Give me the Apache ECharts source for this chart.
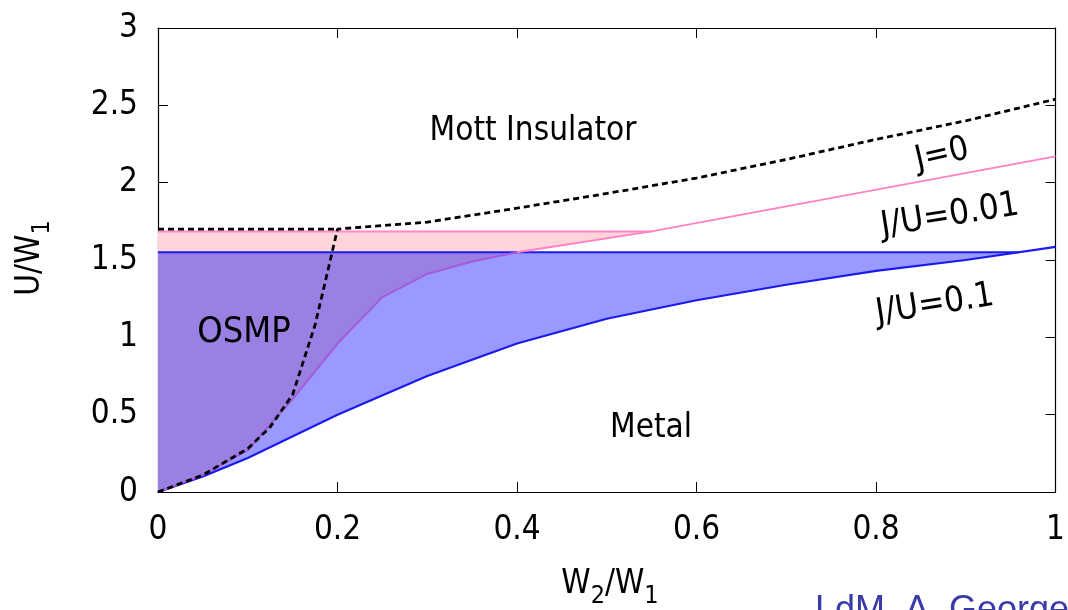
<!DOCTYPE html>
<html><head><meta charset="utf-8">
<script src="https://cdn.jsdelivr.net/npm/echarts@6/dist/echarts.min.js"></script>
<style>html,body{margin:0;padding:0;background:#fff}#c{width:1068px;height:610px}</style>
</head><body><div id="c"></div>
<script>
// ---- data ----
const xTicks = [0, 0.2, 0.4, 0.6, 0.8, 1];
const yTicks = [0, 0.5, 1, 1.5, 2, 2.5, 3];
// J=0 boundary (dashed)
const j0X = [0, 0.05, 0.1, 0.125, 0.15, 0.175, 0.19, 0.2, 0.3, 0.4, 0.5, 0.6, 0.7, 0.8, 0.9, 1];
const j0Y = [0, 0.11, 0.28, 0.42, 0.63, 1.08, 1.45, 1.70, 1.745, 1.835, 1.93, 2.03, 2.15, 2.28, 2.40, 2.54];
const j0Plateau = 1.70;
const j0PlateauEnd = 0.2;
// J/U = 0.01
const p01X = [0, 0.05, 0.1, 0.15, 0.2, 0.25, 0.3, 0.35, 0.4, 0.55, 1];
const p01Y = [0, 0.11, 0.27, 0.60, 0.96, 1.26, 1.41, 1.49, 1.55, 1.685, 2.17];
const p01Plateau = 1.685;
const p01PlateauEnd = 0.55;
// J/U = 0.1
const p1X = [0, 0.05, 0.1, 0.2, 0.3, 0.4, 0.5, 0.6, 0.7, 0.8, 0.9, 1];
const p1Y = [0, 0.10, 0.22, 0.50, 0.75, 0.96, 1.12, 1.24, 1.34, 1.43, 1.50, 1.585];
const p1Plateau = 1.55;

// ---- helpers ----
const FONT = "'DejaVu Sans Condensed', 'DejaVu Sans', sans-serif";
function pairs(xs, ys) { return xs.map((x, i) => [x, ys[i]]); }
function clipBelow(xs, ys, level) {
  const out = [];
  for (let i = 0; i < xs.length; i++) {
    if (ys[i] <= level) { out.push([xs[i], ys[i]]); if (ys[i] === level) return out; }
    else {
      const t = (level - ys[i - 1]) / (ys[i] - ys[i - 1]);
      out.push([xs[i - 1] + t * (xs[i] - xs[i - 1]), level]);
      return out;
    }
  }
  return out;
}
function clipX(xs, ys, xmax) { return pairs(xs, ys).filter(p => p[0] <= xmax); }

const pinkPoly = clipX(p01X, p01Y, p01PlateauEnd).concat([[0, p01Plateau]]);
const blueCurveClip = clipBelow(p1X, p1Y, p1Plateau);
const bluePoly = blueCurveClip.concat([[0, p1Plateau]]);
const overlapCurve = clipBelow(p01X, p01Y, p1Plateau);
const overlapPoly = overlapCurve.concat([[0, p1Plateau]]);
const blueCrossX = blueCurveClip[blueCurveClip.length - 1][0];
const overlapEndX = overlapCurve[overlapCurve.length - 1][0];

function polySeries(poly, color) {
  return {
    type: 'custom', silent: true, data: [[0, 0]], encode: { x: 0, y: 1 }, z: 1,
    renderItem: function (params, api) {
      return { type: 'polygon', shape: { points: poly.map(p => api.coord(p)) }, style: { fill: color, stroke: null } };
    }
  };
}
function lineSeries(data, color, width, type, z) {
  return { type: 'line', data: data, symbol: 'none', silent: true, z: z || 3,
    lineStyle: { color: color, width: width, type: type || 'solid', dashOffset: 0 } };
}

const axisCommon = {
  type: 'value', splitLine: { show: false },
  axisLine: { show: true, onZero: false, lineStyle: { color: '#000', width: 1.2 } },
  axisTick: { show: true, inside: true, length: 10, lineStyle: { color: '#000', width: 1 } },
};
const labelStyle = { fontFamily: FONT, fontSize: 33, color: '#000' };

const chart = echarts.init(document.getElementById('c'), null, { renderer: 'canvas' });
chart.setOption({
  animation: false,
  backgroundColor: '#fff',
  grid: { left: 158, right: 10, top: 28, bottom: 118 },
  xAxis: [
    Object.assign({}, axisCommon, { min: xTicks[0], max: xTicks[xTicks.length - 1], interval: xTicks[1] - xTicks[0], position: 'bottom',
      axisLabel: Object.assign({ margin: 22 }, labelStyle) }),
    Object.assign({}, axisCommon, { min: xTicks[0], max: xTicks[xTicks.length - 1], interval: xTicks[1] - xTicks[0], position: 'top',
      axisLabel: { show: false } })
  ],
  yAxis: [
    Object.assign({}, axisCommon, { min: yTicks[0], max: yTicks[yTicks.length - 1], interval: yTicks[1] - yTicks[0], position: 'left',
      axisLabel: Object.assign({ margin: 20 }, labelStyle) }),
    Object.assign({}, axisCommon, { min: yTicks[0], max: yTicks[yTicks.length - 1], interval: yTicks[1] - yTicks[0], position: 'right',
      axisLabel: { show: false } })
  ],
  series: [
    polySeries(pinkPoly, '#ffd4da'),
    polySeries(bluePoly, '#9999ff'),
    polySeries(overlapPoly, '#9a80e2'),
    lineSeries([[0, p1Plateau], [blueCrossX, p1Plateau]], '#1a1af0', 2),
    lineSeries(pairs(p1X, p1Y), '#1a1af0', 2.2),
    lineSeries([[0, p01Plateau], [p01PlateauEnd, p01Plateau]], '#ff88c8', 2),
    lineSeries(overlapCurve, '#a55ad8', 2),
    lineSeries(clipX(p01X, p01Y, 2).filter(p => p[0] >= overlapEndX), '#ff82c4', 2),
    lineSeries([[0, j0Plateau], [j0PlateauEnd, j0Plateau]], '#000', 2.8, [6, 4], 5),
    lineSeries(pairs(j0X, j0Y), '#000', 2.8, [6, 4], 5)
  ],
  graphic: [
    { type: 'text', x: 533, y: 131, style: { text: 'Mott Insulator', font: "33px " + FONT, fill: '#000', align: 'center', verticalAlign: 'middle' }, z: 10 },
    { type: 'text', x: 244, y: 333, style: { text: 'OSMP', font: "36px " + FONT, fill: '#000', align: 'center', verticalAlign: 'middle' }, z: 10 },
    { type: 'text', x: 651, y: 428, style: { text: 'Metal', font: "33px " + FONT, fill: '#000', align: 'center', verticalAlign: 'middle' }, z: 10 },
    { type: 'text', x: 942, y: 155, rotation: 13 * Math.PI / 180, style: { text: 'J=0', font: "34px " + FONT, fill: '#000', align: 'center', verticalAlign: 'middle' }, z: 10 },
    { type: 'text', x: 950, y: 216, rotation: 9 * Math.PI / 180, style: { text: 'J/U=0.01', font: "35px " + FONT, fill: '#000', align: 'center', verticalAlign: 'middle' }, z: 10 },
    { type: 'text', x: 935, y: 305, rotation: 9 * Math.PI / 180, style: { text: 'J/U=0.1', font: "35px " + FONT, fill: '#000', align: 'center', verticalAlign: 'middle' }, z: 10 },
    { type: 'text', x: 610, y: 588, style: { text: '{m|W}{s|2}{m|/W}{s|1}', align: 'center', verticalAlign: 'middle',
        rich: { m: { fontFamily: FONT, fontSize: 33, fill: '#000', verticalAlign: 'top' }, s: { fontFamily: FONT, fontSize: 25, fill: '#000', verticalAlign: 'bottom', padding: [16, 0, 0, 0] } } }, z: 10 },
    { type: 'text', x: 34, y: 258, rotation: Math.PI / 2, style: { text: '{m|U/W}{s|1}', align: 'center', verticalAlign: 'middle',
        rich: { m: { fontFamily: FONT, fontSize: 33, fill: '#000', verticalAlign: 'top' }, s: { fontFamily: FONT, fontSize: 25, fill: '#000', verticalAlign: 'bottom', padding: [16, 0, 0, 0] } } }, z: 10 },
    { type: 'text', x: 815, y: 593, style: { text: 'LdM, A. Georges', font: "36px 'Liberation Sans', sans-serif", fill: '#3b3ba8', align: 'left', verticalAlign: 'top' }, z: 10 }
  ]
});
</script></body></html>
